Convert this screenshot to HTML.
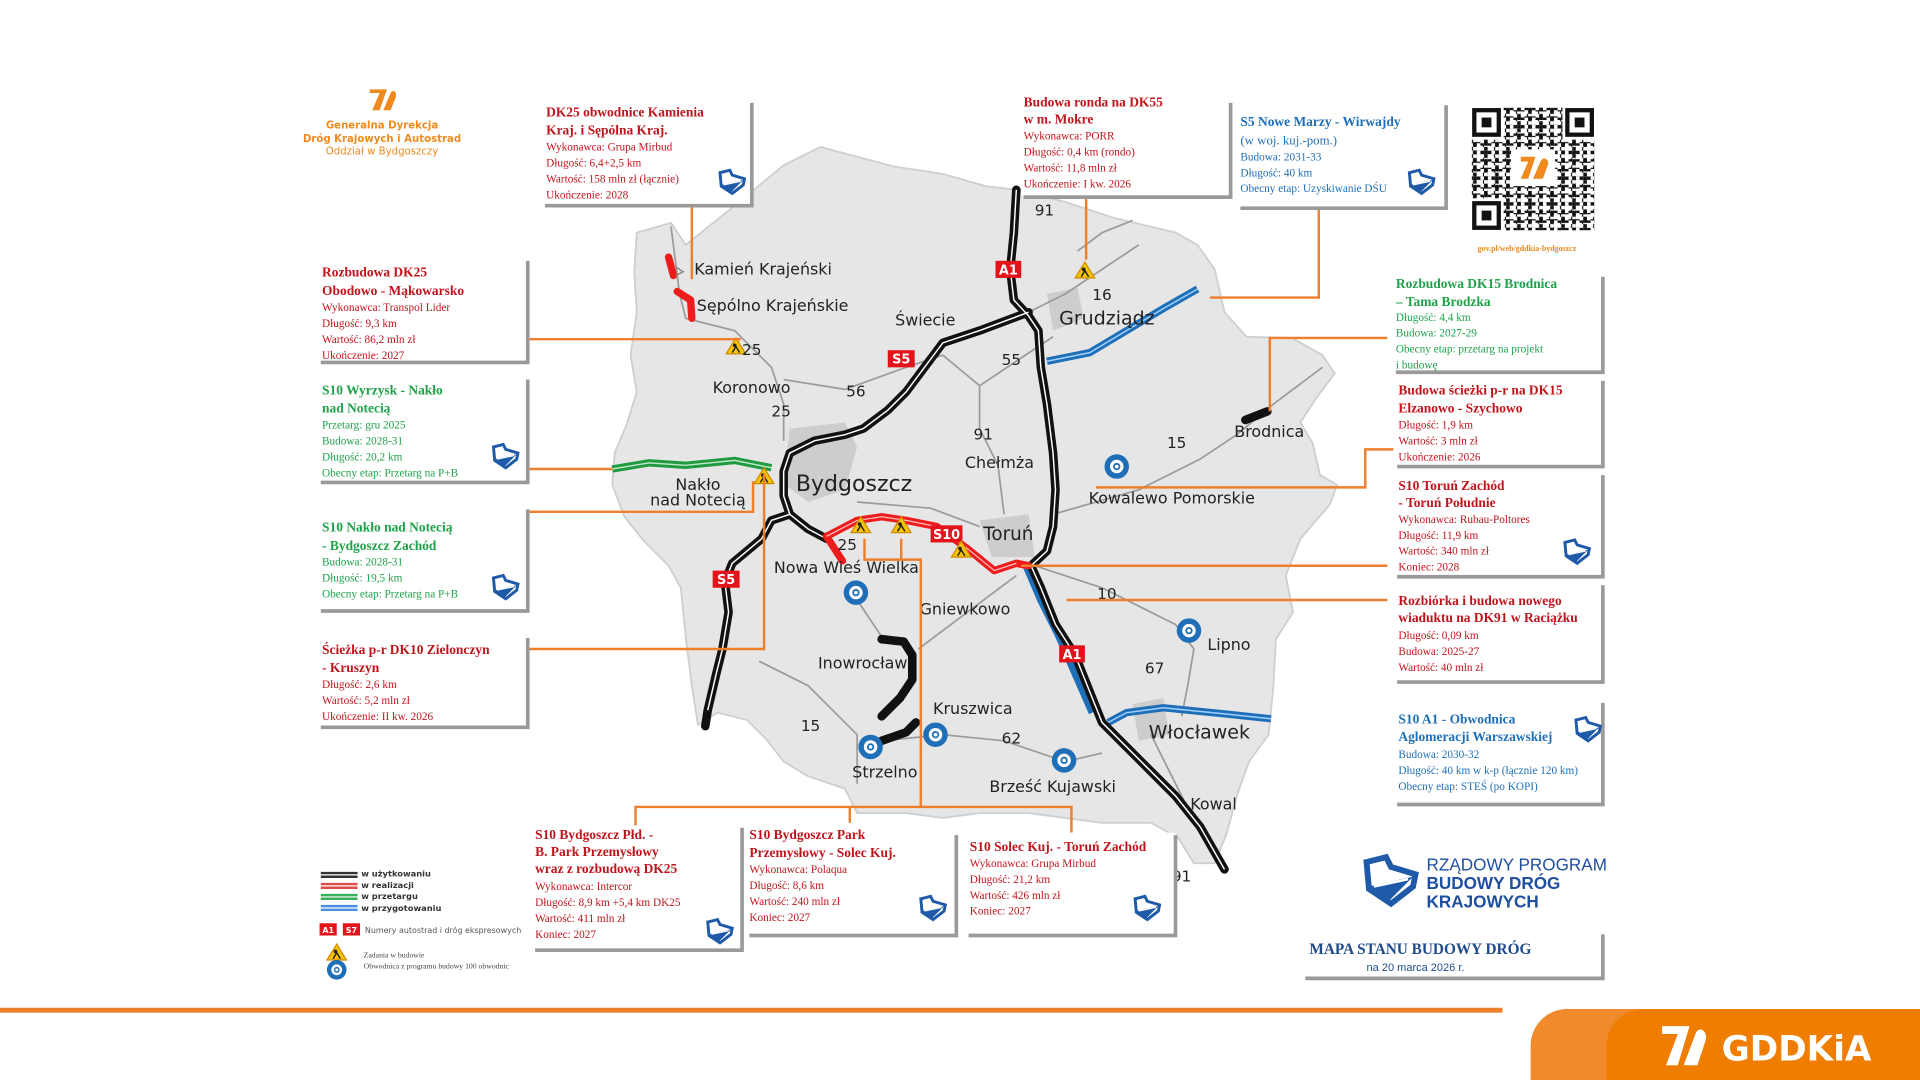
<!DOCTYPE html>
<html><head><meta charset="utf-8"><style>
html,body{margin:0;padding:0;background:#fff;}
svg{display:block;}
.t{font-family:"Liberation Serif",serif;font-weight:bold;font-size:11px;}
.b{font-family:"Liberation Serif",serif;font-size:9.2px;}
.r{fill:#c0141c;} .g{fill:#1fa24a;} .bl{fill:#1f6fb8;}
.city{font-family:"DejaVu Sans","Liberation Sans",sans-serif;font-size:13px;fill:#222;}
.num{font-family:"DejaVu Sans","Liberation Sans",sans-serif;font-size:12.5px;fill:#222;}
.bx{fill:#fff;}
.sh{stroke:#9a9a9a;stroke-width:3;fill:none;}
.oc{stroke:#ee7f2d;stroke-width:2;fill:none;}
</style></head><body>
<svg width="1920" height="1080" viewBox="0 0 1568 882" xmlns="http://www.w3.org/2000/svg">
<defs>
<g id="shield"><path d="M-10,-7 L-2,-9 L0,-5 L10,-2 L9,3 L0,10 L-9,4 Z" fill="none" stroke="#1f5aa8" stroke-width="2.4"/><path d="M-9,3 L9,-1 L-1,9 Z" fill="#1f5aa8"/><path d="M-7,3 L7,0" stroke="#fff" stroke-width="1"/></g>
<g id="ring"><circle r="10" fill="#1f6fb8"/><circle r="5.5" fill="#fff"/><circle r="3" fill="#1f6fb8"/><circle r="1.5" fill="#fff"/></g>
<g id="warn"><path d="M0,-7 L8,6 L-8,6 Z" fill="#f6c400" stroke="#d08a00" stroke-width="1"/><circle cx="-1" cy="-1" r="1.5" fill="#222"/><path d="M-3,5 L0,0 L3,5" stroke="#222" stroke-width="1.2" fill="none"/></g>
<pattern id="qa" width="6" height="6" patternUnits="userSpaceOnUse"><rect width="3" height="3" fill="#111"/><rect x="3" y="3" width="3" height="3" fill="#111"/></pattern>
<pattern id="qb" width="9" height="7" patternUnits="userSpaceOnUse"><rect width="5" height="4" fill="#fff"/><rect x="6" y="4" width="3" height="3" fill="#111"/></pattern>
</defs>

<!-- map body -->
<path d="M520,190 L548,182 L560,200 L600,168 L640,135 L670,120 L700,128 L730,136 L770,142 L805,152 L830,155 L870,165 L910,178 L960,190 L978,200 L992,220 L1000,255 L1018,275 L1055,276 L1080,290 L1090,305 L1075,325 L1062,345 L1072,362 L1078,388 L1092,396 L1086,412 L1062,440 L1050,470 L1056,500 L1042,522 L1040,560 L1036,600 L1020,622 L1010,650 L1002,680 L992,705 L975,705 L962,684 L940,672 L900,672 L870,668 L840,664 L800,664 L770,668 L740,664 L700,664 L690,644 L660,634 L640,622 L626,604 L610,588 L586,582 L570,592 L565,560 L560,520 L556,480 L546,462 L526,442 L510,422 L500,396 L502,370 L512,346 L520,320 L515,290 L520,255 L518,222 Z" fill="#e6e6e6" stroke="#cfcfcf" stroke-width="1.5"/>
<path d="M645,350 L690,345 L700,365 L690,400 L660,410 L640,395 Z" fill="#cdcdcd"/>
<path d="M855,240 L880,235 L885,260 L860,270 Z" fill="#cdcdcd"/>
<path d="M800,425 L840,420 L845,455 L810,455 Z" fill="#cdcdcd"/>
<path d="M925,575 L950,570 L955,600 L930,605 Z" fill="#cdcdcd"/>
<g stroke="#9b9b9b" stroke-width="1.4" fill="none">
<path d="M548,185 L555,240 L560,260 L600,270 L630,300 L640,330 L640,360"/>
<path d="M640,310 L690,318 L740,300 L770,290"/>
<path d="M770,290 L800,315 L800,350 L815,380 L820,420"/>
<path d="M840,255 L870,240 L900,220 L930,200"/>
<path d="M860,275 L800,315"/>
<path d="M700,410 L760,415 L800,430"/>
<path d="M860,420 L930,400 L980,375 L1010,355 L1040,330 L1080,300"/>
<path d="M845,462 L900,480 L960,510 L975,530 L970,560 L965,585"/>
<path d="M830,470 L790,500 L750,530"/>
<path d="M700,490 L720,520"/>
<path d="M700,600 L700,640"/>
<path d="M720,605 L770,600 L820,605 L870,622 L900,615"/>
<path d="M940,600 L960,640 L975,670"/>
<path d="M620,540 L660,560 L700,600"/>
<path d="M880,205 L900,190 L925,180"/>
</g>
<g stroke="#1f6fb8" stroke-width="6" fill="none" stroke-linejoin="round">
<path d="M855,295 L890,288 L920,270 L950,252 L978,236"/>
<path d="M905,590 L920,582 L950,578 L1000,583 L1038,587"/>
<path d="M838,462 L850,490 L865,520 L878,550 L892,582"/>
</g>
<g stroke="#9fd0ff" stroke-width="1.2" fill="none">
<path d="M855,295 L890,288 L920,270 L950,252 L978,236"/>
<path d="M905,590 L920,582 L950,578 L1000,583 L1038,587"/>
</g>
<path d="M500,383 L530,378 L560,380 L600,376 L630,382" stroke="#1f9a3f" stroke-width="6" fill="none"/>
<path d="M500,383 L530,378 L560,380 L600,376 L630,382" stroke="#bde6c8" stroke-width="1.2" fill="none"/>
<g stroke="#111" stroke-width="7" fill="none" stroke-linejoin="round" stroke-linecap="round">
<path d="M830,155 L828,190 L825,220 L828,245 L840,258 L848,270 L850,300 L855,330 L860,370 L862,400 L860,430 L855,450 L842,462 L850,480 L862,510 L878,535 L890,565 L900,590 L920,610 L940,630 L960,650 L980,675 L1000,710"/>
<path d="M840,255 L800,270 L770,280 L755,300 L740,320 L725,335 L705,350 L690,355 L665,360 L645,370 L640,385 L640,405 L645,420 L660,432 L675,440"/>
<path d="M645,420 L630,425 L622,440 L610,450 L598,460 L592,475 L595,500 L590,530 L585,550 L578,580 L576,593"/>
<path d="M720,522 L738,524 L745,535 L745,555 L735,570 L720,585"/>
<path d="M748,590 L740,598 L720,605"/>
<path d="M1017,343 L1035,336"/>
</g>
<g stroke="#fff" stroke-width="1.2" fill="none">
<path d="M830,155 L828,190 L825,220 L828,245 L840,258 L848,270 L850,300 L855,330 L860,370 L862,400 L860,430 L855,450 L842,462 L850,480 L862,510 L878,535 L890,565 L900,590 L920,610 L940,630 L960,650 L980,675 L1000,710"/>
<path d="M840,255 L800,270 L770,280 L755,300 L740,320 L725,335 L705,350 L690,355 L665,360 L645,370 L640,385 L640,405 L645,420 L660,432 L675,440"/>
<path d="M645,420 L630,425 L622,440 L610,450 L598,460 L592,475 L595,500 L590,530 L585,550 L578,580"/>
</g>
<g stroke="#ee1c1c" stroke-width="6" fill="none" stroke-linejoin="round" stroke-linecap="round">
<path d="M675,438 L700,425 L720,422 L740,425 L765,430 L790,448 L812,466 L830,460 L840,462"/>
<path d="M675,438 L688,458"/>
<path d="M546,210 L550,225"/>
<path d="M553,238 L564,245 L565,260"/>
</g>
<path d="M675,438 L700,425 L720,422 L740,425 L765,430 L790,448 L812,466 L830,460" stroke="#ffc0c0" stroke-width="1" fill="none"/>
<path d="M552,218 L558,222 L552,225" stroke="#888" stroke-width="1.2" fill="none"/>

<g font-family="DejaVu Sans,Liberation Sans,sans-serif" font-size="10.5" font-weight="bold" fill="#fff" text-anchor="middle">
<rect x="813" y="213" width="21" height="14" fill="#e3131b"/><text x="823.5" y="224">A1</text>
<rect x="725" y="286" width="22" height="14" fill="#e3131b"/><text x="736" y="297">S5</text>
<rect x="760" y="429" width="26" height="14" fill="#e3131b"/><text x="773" y="440">S10</text>
<rect x="582" y="466" width="22" height="14" fill="#e3131b"/><text x="593" y="477">S5</text>
<rect x="865" y="527" width="21" height="14" fill="#e3131b"/><text x="875.5" y="538">A1</text>
</g>
<use href="#ring" x="912" y="381"/><use href="#ring" x="699" y="484"/><use href="#ring" x="971" y="515"/>
<use href="#ring" x="711" y="610"/><use href="#ring" x="764" y="600"/><use href="#ring" x="869" y="621"/>
<use href="#warn" x="886" y="221"/><use href="#warn" x="601" y="283"/><use href="#warn" x="624" y="389"/>
<use href="#warn" x="703" y="429"/><use href="#warn" x="736" y="429"/><use href="#warn" x="785" y="449"/>

<text class="city" x="567" y="224">Kamień Krajeński</text>
<text class="city" x="569" y="254">Sępólno Krajeńskie</text>
<text class="city" x="731" y="266">Świecie</text>
<text class="city" x="865" y="265" style="font-size:15.5px">Grudziądz</text>
<text class="city" x="582" y="321">Koronowo</text>
<text class="city" x="650" y="401" style="font-size:18px">Bydgoszcz</text>
<text class="city" x="570" y="400" text-anchor="middle">Nakło</text>
<text class="city" x="570" y="413" text-anchor="middle">nad Notecią</text>
<text class="city" x="788" y="382">Chełmża</text>
<text class="city" x="803" y="441" style="font-size:15px">Toruń</text>
<text class="city" x="889" y="411">Kowalewo Pomorskie</text>
<text class="city" x="1008" y="357">Brodnica</text>
<text class="city" x="632" y="468">Nowa Wieś Wielka</text>
<text class="city" x="751" y="502">Gniewkowo</text>
<text class="city" x="668" y="546">Inowrocław</text>
<text class="city" x="762" y="583">Kruszwica</text>
<text class="city" x="696" y="635">Strzelno</text>
<text class="city" x="808" y="647">Brześć Kujawski</text>
<text class="city" x="986" y="531">Lipno</text>
<text class="city" x="938" y="603" style="font-size:15.5px">Włocławek</text>
<text class="city" x="972" y="661">Kowal</text>
<g class="num">
<text x="845" y="176">91</text><text x="892" y="245">16</text><text x="818" y="298">55</text><text x="606" y="290">25</text>
<text x="691" y="324">56</text><text x="630" y="340">25</text><text x="795" y="359">91</text><text x="953" y="366">15</text>
<text x="684" y="449">25</text><text x="896" y="489">10</text><text x="935" y="550">67</text><text x="654" y="597">15</text>
<text x="818" y="607">62</text><text x="957" y="720">91</text>
</g>

<g class="oc">
<path d="M565,168 L565,228"/>
<path d="M432,277 L605,277"/>
<path d="M432,383 L500,383"/>
<path d="M432,418 L615,418 L615,393"/>
<path d="M432,530 L624,530 L624,387"/>
<path d="M519,680 L519,659 L875,659 L875,680"/>
<path d="M694,659 L694,680"/>
<path d="M752,659 L752,457 L706,457 L706,440"/>
<path d="M736,457 L736,440"/>
<path d="M834,462 L1133,462"/>
<path d="M871,490 L1133,490"/>
<path d="M895,398 L1115,398 L1115,367 L1140,367"/>
<path d="M1037,336 L1037,276 L1133,276"/>
<path d="M988,243 L1077,243 L1077,170"/>
<path d="M887,160 L887,212"/>
</g>

<g>
<rect class="bx" x="440" y="80" width="174" height="88"/><path class="sh" d="M614,84 L614,168 L445,168"/>
<text class="t r" x="446" y="95">DK25 obwodnice Kamienia</text><text class="t r" x="446" y="110">Kraj. i Sępólna Kraj.</text>
<text class="b r" x="446" y="123">Wykonawca: Grupa Mirbud</text><text class="b r" x="446" y="136">Długość: 6,4+2,5 km</text>
<text class="b r" x="446" y="149">Wartość: 158 mln zł (łącznie)</text><text class="b r" x="446" y="162">Ukończenie: 2028</text>
<use href="#shield" x="598" y="148"/>

<rect class="bx" x="258" y="212" width="173" height="84"/><path class="sh" d="M431,213 L431,296 L262,296"/>
<text class="t r" x="263" y="226">Rozbudowa DK25</text><text class="t r" x="263" y="241">Obodowo - Mąkowarsko</text>
<text class="b r" x="263" y="254">Wykonawca: Transpol Lider</text><text class="b r" x="263" y="267">Długość: 9,3 km</text>
<text class="b r" x="263" y="280">Wartość: 86,2 mln zł</text><text class="b r" x="263" y="293">Ukończenie: 2027</text>

<rect class="bx" x="258" y="309" width="173" height="85"/><path class="sh" d="M431,310 L431,394 L262,394"/>
<text class="t g" x="263" y="322">S10 Wyrzysk - Nakło</text><text class="t g" x="263" y="337">nad Notecią</text>
<text class="b g" x="263" y="350">Przetarg: gru 2025</text><text class="b g" x="263" y="363">Budowa: 2028-31</text>
<text class="b g" x="263" y="376">Długość: 20,2 km</text><text class="b g" x="263" y="389">Obecny etap: Przetarg na P+B</text>
<use href="#shield" x="413" y="372"/>

<rect class="bx" x="258" y="415" width="173" height="84"/><path class="sh" d="M431,416 L431,499 L262,499"/>
<text class="t g" x="263" y="434">S10 Nakło nad Notecią</text><text class="t g" x="263" y="449">- Bydgoszcz Zachód</text>
<text class="b g" x="263" y="462">Budowa: 2028-31</text><text class="b g" x="263" y="475">Długość: 19,5 km</text>
<text class="b g" x="263" y="488">Obecny etap: Przetarg na P+B</text>
<use href="#shield" x="413" y="479"/>

<rect class="bx" x="258" y="520" width="173" height="74"/><path class="sh" d="M431,521 L431,594 L262,594"/>
<text class="t r" x="263" y="534">Ścieżka p-r DK10 Zielonczyn</text><text class="t r" x="263" y="549">- Kruszyn</text>
<text class="b r" x="263" y="562">Długość: 2,6 km</text><text class="b r" x="263" y="575">Wartość: 5,2 mln zł</text>
<text class="b r" x="263" y="588">Ukończenie: II kw. 2026</text>

<rect class="bx" x="834" y="74" width="171" height="86"/><path class="sh" d="M1005,84 L1005,161 L836,161"/>
<text class="t r" x="836" y="87">Budowa ronda na DK55</text><text class="t r" x="836" y="101">w m. Mokre</text>
<text class="b r" x="836" y="114">Wykonawca: PORR</text><text class="b r" x="836" y="127">Długość: 0,4 km (rondo)</text>
<text class="b r" x="836" y="140">Wartość: 11,8 mln zł</text><text class="b r" x="836" y="153">Ukończenie: I kw. 2026</text>

<rect class="bx" x="1010" y="84" width="171" height="86"/><path class="sh" d="M1181,86 L1181,170 L1013,170"/>
<text class="t bl" x="1013" y="103">S5 Nowe Marzy - Wirwajdy</text><text class="b bl" x="1013" y="118" style="font-size:10.5px">(w woj. kuj.-pom.)</text>
<text class="b bl" x="1013" y="131">Budowa: 2031-33</text><text class="b bl" x="1013" y="144">Długość: 40 km</text>
<text class="b bl" x="1013" y="157">Obecny etap: Uzyskiwanie DŚU</text>
<use href="#shield" x="1161" y="148"/>

<rect class="bx" x="1137" y="224" width="172" height="80"/><path class="sh" d="M1309,226 L1309,304 L1140,304"/>
<text class="t g" x="1140" y="235">Rozbudowa DK15 Brodnica</text><text class="t g" x="1140" y="250">– Tama Brodzka</text>
<text class="b g" x="1140" y="262">Długość: 4,4 km</text><text class="b g" x="1140" y="275">Budowa: 2027-29</text>
<text class="b g" x="1140" y="288">Obecny etap: przetarg na projekt</text><text class="b g" x="1140" y="301">i budowę</text>

<rect class="bx" x="1138" y="309" width="171" height="72"/><path class="sh" d="M1309,311 L1309,381 L1141,381"/>
<text class="t r" x="1142" y="322">Budowa ścieżki p-r na DK15</text><text class="t r" x="1142" y="337">Elzanowo - Szychowo</text>
<text class="b r" x="1142" y="350">Długość: 1,9 km</text><text class="b r" x="1142" y="363">Wartość: 3 mln zł</text>
<text class="b r" x="1142" y="376">Ukończenie: 2026</text>

<rect class="bx" x="1138" y="386" width="171" height="85"/><path class="sh" d="M1309,388 L1309,471 L1141,471"/>
<text class="t r" x="1142" y="400">S10 Toruń Zachód</text><text class="t r" x="1142" y="414">- Toruń Południe</text>
<text class="b r" x="1142" y="427">Wykonawca: Rubau-Poltores</text><text class="b r" x="1142" y="440">Długość: 11,9 km</text>
<text class="b r" x="1142" y="453">Wartość: 340 mln zł</text><text class="b r" x="1142" y="466">Koniec: 2028</text>
<use href="#shield" x="1288" y="450"/>

<rect class="bx" x="1138" y="476" width="171" height="81"/><path class="sh" d="M1309,478 L1309,557 L1141,557"/>
<text class="t r" x="1142" y="494">Rozbiórka i budowa nowego</text><text class="t r" x="1142" y="508">wiaduktu na DK91 w Raciążku</text>
<text class="b r" x="1142" y="522">Długość: 0,09 km</text><text class="b r" x="1142" y="535">Budowa: 2025-27</text>
<text class="b r" x="1142" y="548">Wartość: 40 mln zł</text>

<rect class="bx" x="1138" y="572" width="171" height="85"/><path class="sh" d="M1309,574 L1309,657 L1141,657"/>
<text class="t bl" x="1142" y="591">S10 A1 - Obwodnica</text><text class="t bl" x="1142" y="605">Aglomeracji Warszawskiej</text>
<text class="b bl" x="1142" y="619">Budowa: 2030-32</text><text class="b bl" x="1142" y="632">Długość: 40 km w k-p (łącznie 120 km)</text>
<text class="b bl" x="1142" y="645">Obecny etap: STEŚ (po KOPI)</text>
<use href="#shield" x="1297" y="595"/>

<rect class="bx" x="433" y="674" width="173" height="102"/><path class="sh" d="M606,676 L606,776 L437,776"/>
<text class="t r" x="437" y="685">S10 Bydgoszcz Płd. -</text><text class="t r" x="437" y="699">B. Park Przemysłowy</text>
<text class="t r" x="437" y="713">wraz z rozbudową DK25</text>
<text class="b r" x="437" y="727">Wykonawca: Intercor</text><text class="b r" x="437" y="740">Długość: 8,9 km +5,4 km DK25</text>
<text class="b r" x="437" y="753">Wartość: 411 mln zł</text><text class="b r" x="437" y="766">Koniec: 2027</text>
<use href="#shield" x="588" y="760"/>

<rect class="bx" x="609" y="672" width="172" height="92"/><path class="sh" d="M781,682 L781,764 L612,764"/>
<text class="t r" x="612" y="685">S10 Bydgoszcz Park</text><text class="t r" x="612" y="700">Przemysłowy - Solec Kuj.</text>
<text class="b r" x="612" y="713">Wykonawca: Polaqua</text><text class="b r" x="612" y="726">Długość: 8,6 km</text>
<text class="b r" x="612" y="739">Wartość: 240 mln zł</text><text class="b r" x="612" y="752">Koniec: 2027</text>
<use href="#shield" x="762" y="741"/>

<rect class="bx" x="788" y="680" width="172" height="84"/><path class="sh" d="M960,682 L960,764 L791,764"/>
<text class="t r" x="792" y="695">S10 Solec Kuj. - Toruń Zachód</text>
<text class="b r" x="792" y="708">Wykonawca: Grupa Mirbud</text><text class="b r" x="792" y="721">Długość: 21,2 km</text>
<text class="b r" x="792" y="734">Wartość: 426 mln zł</text><text class="b r" x="792" y="747">Koniec: 2027</text>
<use href="#shield" x="937" y="741"/>
</g>

<g transform="translate(313,82)">
<path d="M-9,8 L-3,-6 L-11,-6 L-11,-9 L3,-9 L-3,8 Z" fill="#ef8a1f"/>
<path d="M0,8 L6,-6 C8,-10 12,-6 10,-2 L6,8 Z" fill="#ef8a1f"/>
</g>
<g font-family="DejaVu Sans,Liberation Sans,sans-serif" fill="#ef8a1f" text-anchor="middle">
<text x="312" y="105" font-size="8.3" font-weight="bold">Generalna Dyrekcja</text>
<text x="312" y="116" font-size="8.3" font-weight="bold">Dróg Krajowych i Autostrad</text>
<text x="312" y="126" font-size="8.3">Oddział w Bydgoszczy</text>
</g>

<g>
<rect x="1202" y="88" width="100" height="100" fill="url(#qa)"/>
<rect x="1202" y="88" width="100" height="100" fill="url(#qb)"/>
<g fill="#fff"><rect x="1200" y="86" width="28" height="28"/><rect x="1276" y="86" width="28" height="28"/><rect x="1200" y="162" width="28" height="28"/><rect x="1234" y="122" width="36" height="30"/></g>
<g fill="none" stroke="#111" stroke-width="3.5"><rect x="1204" y="90" width="20" height="20"/><rect x="1280" y="90" width="20" height="20"/><rect x="1204" y="166" width="20" height="20"/></g>
<g fill="#111"><rect x="1210" y="96" width="8" height="8"/><rect x="1286" y="96" width="8" height="8"/><rect x="1210" y="172" width="8" height="8"/></g>
<path d="M1242,146 L1248,132 L1242,132 L1242,128 L1254,128 L1248,146 Z" fill="#ef8a1f"/><path d="M1252,146 L1258,132 C1260,127 1266,130 1264,135 L1260,146 Z" fill="#ef8a1f"/>
<text x="1247" y="205" text-anchor="middle" font-family="Liberation Serif,serif" font-weight="bold" font-size="6.5" fill="#ef8a1f">gov.pl/web/gddkia-bydgoszcz</text>
</g>

<g>
<path d="M262,713 L292,713 M262,716 L292,716" stroke="#333" stroke-width="2"/>
<path d="M262,722 L292,722 M262,725 L292,725" stroke="#e34a4a" stroke-width="2"/>
<path d="M262,731 L292,731 M262,734 L292,734" stroke="#3bb05c" stroke-width="2"/>
<path d="M262,740 L292,740 M262,743 L292,743" stroke="#4a90e2" stroke-width="2"/>
<g font-family="DejaVu Sans,Liberation Sans,sans-serif" font-size="6.8" font-weight="bold" fill="#333">
<text x="295" y="716">w użytkowaniu</text><text x="295" y="725">w realizacji</text><text x="295" y="734">w przetargu</text><text x="295" y="744">w przygotowaniu</text></g>
<rect x="261" y="754" width="14" height="10" fill="#e3131b"/><text x="268" y="762" text-anchor="middle" font-family="DejaVu Sans,sans-serif" font-size="6.5" font-weight="bold" fill="#fff">A1</text>
<rect x="280" y="754" width="14" height="10" fill="#e3131b"/><text x="287" y="762" text-anchor="middle" font-family="DejaVu Sans,sans-serif" font-size="6.5" font-weight="bold" fill="#fff">S7</text>
<text x="298" y="762" font-family="DejaVu Sans,Liberation Sans,sans-serif" font-size="6.5" fill="#555">Numery autostrad i dróg ekspresowych</text>
<use href="#warn" x="275" y="778"/><use href="#ring" x="275" y="792" transform="translate(275,792) scale(0.8) translate(-275,-792)"/>
<text x="297" y="782" font-family="Liberation Serif,serif" font-size="6.3" fill="#444">Zadania w budowie</text>
<text x="297" y="791" font-family="Liberation Serif,serif" font-size="6.3" fill="#444">Obwodnica z programu budowy 100 obwodnic</text>
</g>

<g transform="translate(1136,718) scale(2)"><use href="#shield"/></g>
<g font-family="Liberation Sans,DejaVu Sans,sans-serif" fill="#1f4fa0">
<text x="1165" y="711" font-size="14">RZĄDOWY PROGRAM</text>
<text x="1165" y="726" font-size="14" font-weight="bold">BUDOWY DRÓG</text>
<text x="1165" y="741" font-size="14" font-weight="bold">KRAJOWYCH</text>
</g>
<path class="sh" d="M1309,763 L1309,799 L1066,799"/>
<text x="1160" y="779" text-anchor="middle" font-family="Liberation Serif,serif" font-weight="bold" font-size="12.5" fill="#1f4a8c">MAPA STANU BUDOWY DRÓG</text>
<text x="1156" y="793" text-anchor="middle" font-family="Liberation Sans,sans-serif" font-size="9" fill="#1f4a8c">na 20 marca 2026 r.</text>

<rect x="0" y="823" width="1227" height="4" fill="#ee7f2d"/>
<path d="M1280,824 L1568,824 L1568,882 L1250,882 L1250,854 A30,30 0 0 1 1280,824 Z" fill="#f08a2c"/>
<path d="M1342,824 L1568,824 L1568,882 L1312,882 L1312,854 A30,30 0 0 1 1342,824 Z" fill="#ef7d00"/>
<g transform="translate(1375,854) scale(1.6)">
<path d="M-9,10 L-3,-6 L-11,-6 L-11,-10 L3,-10 L-3,10 Z" fill="#fff"/>
<path d="M0,10 L6,-6 C8,-11 13,-7 11,-2 L7,10 Z" fill="#fff"/>
</g>
<text x="1406" y="866" font-family="DejaVu Sans,Liberation Sans,sans-serif" font-weight="bold" font-size="28" fill="#fff">GDDKiA</text>
</svg>
</body></html>
